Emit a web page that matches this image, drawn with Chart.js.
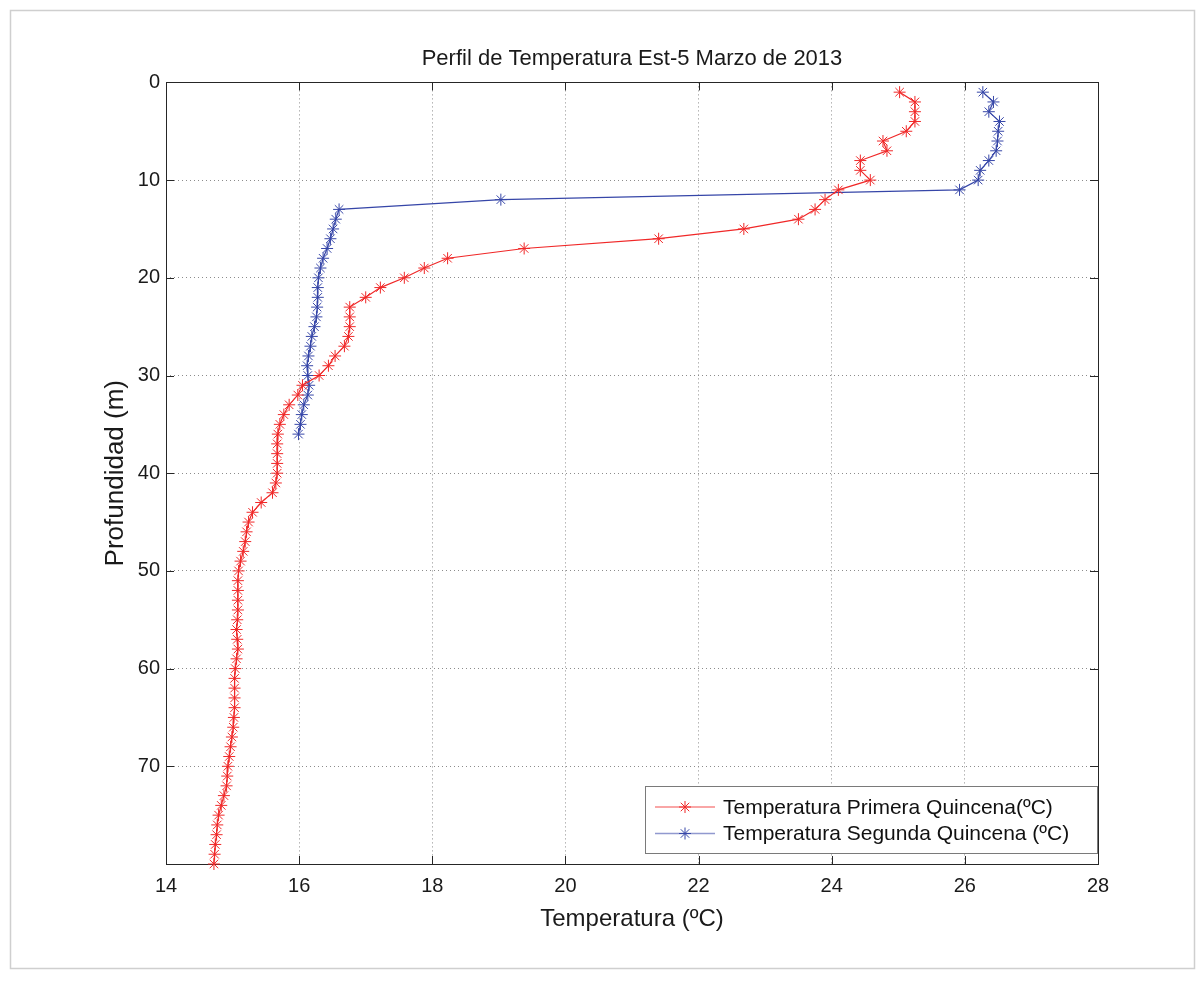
<!DOCTYPE html>
<html>
<head>
<meta charset="utf-8">
<title>Perfil de Temperatura Est-5</title>
<script src="https://cdn.jsdelivr.net/npm/chart.js@4.4.1/dist/chart.umd.min.js"></script>
<style>
  html, body { margin: 0; padding: 0; background: #fff; }
  #wrap { position: relative; width: 1204px; height: 991px; }
</style>
</head>
<body>
<div id="wrap"><canvas id="perfil-chart" width="1204" height="991"></canvas></div>
<script>
  // profundidad (m) de cada medida
  const depthPrimera = [1, 2, 3, 4, 5, 6, 7, 8, 9, 10,
    11, 12, 13, 14, 15, 16, 17, 18, 19, 20,
    21, 22, 23, 24, 25, 26, 27, 28, 29, 30,
    31, 32, 33, 34, 35, 36, 37, 38, 39, 40,
    41, 42, 43, 44, 45, 46, 47, 48, 49, 50,
    51, 52, 53, 54, 55, 56, 57, 58, 59, 60,
    61, 62, 63, 64, 65, 66, 67, 68, 69, 70,
    71, 72, 73, 74, 75, 76, 77, 78, 79, 80];
  const tempPrimera = [25.02, 25.25, 25.25, 25.25, 25.12, 24.77, 24.83, 24.43, 24.43, 24.58,
    24.10, 23.90, 23.75, 23.50, 22.68, 21.40, 19.38, 18.23, 17.88, 17.58,
    17.22, 17.00, 16.76, 16.76, 16.76, 16.74, 16.68, 16.54, 16.44, 16.30,
    16.05, 15.98, 15.85, 15.77, 15.71, 15.68, 15.67, 15.67, 15.67, 15.67,
    15.65, 15.60, 15.43, 15.30, 15.24, 15.21, 15.19, 15.16, 15.12, 15.09,
    15.08, 15.08, 15.08, 15.08, 15.07, 15.06, 15.07, 15.08, 15.06, 15.04,
    15.03, 15.03, 15.03, 15.03, 15.02, 15.01, 14.99, 14.97, 14.95, 14.93,
    14.92, 14.91, 14.87, 14.83, 14.79, 14.77, 14.76, 14.74, 14.73, 14.72];

  const depthSegunda = [1, 2, 3, 4, 5, 6, 7, 8, 9, 10,
    11, 12, 13, 14, 15, 16, 17, 18, 19, 20,
    21, 22, 23, 24, 25, 26, 27, 28, 29, 30,
    31, 32, 33, 34, 35, 36];
  const tempSegunda = [26.27, 26.43, 26.36, 26.52, 26.50, 26.49, 26.47, 26.36, 26.23, 26.20,
    25.92, 19.03, 16.60, 16.55, 16.51, 16.47, 16.42, 16.36, 16.32, 16.29,
    16.28, 16.28, 16.27, 16.26, 16.23, 16.19, 16.17, 16.14, 16.12, 16.13,
    16.15, 16.13, 16.07, 16.04, 16.02, 15.99];

  const xTicks = [14, 16, 18, 20, 22, 24, 26, 28];
  const yTicks = [0, 10, 20, 30, 40, 50, 60, 70, 80];

  const FONT = '"Liberation Sans", Arial, Helvetica, sans-serif';
  const RED = '#f02828';
  const BLUE = '#3646a8';

  function toPoints(xs, ys) {
    return xs.map((t, i) => ({ x: t, y: ys[i] }));
  }

  function drawStar(ctx, x, y, r) {
    const d = r * Math.SQRT1_2;
    ctx.beginPath();
    ctx.moveTo(x - r, y); ctx.lineTo(x + r, y);
    ctx.moveTo(x, y - r); ctx.lineTo(x, y + r);
    ctx.moveTo(x - d, y - d); ctx.lineTo(x + d, y + d);
    ctx.moveTo(x - d, y + d); ctx.lineTo(x + d, y - d);
    ctx.stroke();
  }

  // marco gris, caja de ejes y marcas hacia dentro (estilo matlab)
  const axesBox = {
    id: 'axesBox',
    afterLayout(chart) {
      // centrar el titulo sobre el area de los ejes
      const tb = chart.titleBlock;
      if (tb) {
        tb.left = chart.chartArea.left;
        tb.right = chart.chartArea.right;
        tb.width = tb.right - tb.left;
      }
    },
    beforeDraw(chart) {
      const ctx = chart.ctx;
      ctx.save();
      ctx.strokeStyle = '#cfcfcf';
      ctx.lineWidth = 1.5;
      ctx.strokeRect(10.5, 10.5, 1184, 958);
      ctx.restore();
    },
    beforeDatasetsDraw(chart) {
      const { ctx, chartArea: a, scales } = chart;
      ctx.save();
      ctx.strokeStyle = '#262626';
      ctx.lineWidth = 1;
      ctx.strokeRect(Math.round(a.left) + 0.5, Math.round(a.top) + 0.5,
        Math.round(a.right - a.left), Math.round(a.bottom - a.top));
      const len = 8;
      ctx.beginPath();
      xTicks.forEach(v => {
        const px = Math.round(scales.x.getPixelForValue(v)) + 0.5;
        ctx.moveTo(px, a.bottom); ctx.lineTo(px, a.bottom - len);
        ctx.moveTo(px, a.top); ctx.lineTo(px, a.top + len);
      });
      yTicks.forEach(v => {
        const py = Math.round(scales.y.getPixelForValue(v)) + 0.5;
        ctx.moveTo(a.left, py); ctx.lineTo(a.left + len, py);
        ctx.moveTo(a.right, py); ctx.lineTo(a.right - len, py);
      });
      ctx.stroke();
      ctx.restore();
    },
    afterDraw(chart) {
      const { ctx, chartArea: a } = chart;
      const sets = chart.data.datasets;
      ctx.save();
      ctx.font = '21px ' + FONT;
      const textW = Math.max(...sets.map(d => ctx.measureText(d.label).width));
      const w = Math.round(78 + textW + 28);
      const h = 67;
      const right = Math.round(a.right) - 1;
      const bottom = Math.round(a.bottom) - 11;
      const left = right - w, top = bottom - h;
      ctx.fillStyle = '#fff';
      ctx.fillRect(left, top, w, h);
      ctx.strokeStyle = '#7a7a7a';
      ctx.lineWidth = 1;
      ctx.strokeRect(left + 0.5, top + 0.5, w, h);
      sets.forEach((d, i) => {
        const y = top + 21 + i * 26.5;
        ctx.strokeStyle = d.borderColor;
        ctx.globalAlpha = 0.55;
        ctx.lineWidth = 1.5;
        ctx.beginPath();
        ctx.moveTo(left + 10, y); ctx.lineTo(left + 70, y);
        ctx.stroke();
        ctx.globalAlpha = 1;
        ctx.lineWidth = 1;
        drawStar(ctx, left + 40, y, 6);
        ctx.fillStyle = '#111';
        ctx.textBaseline = 'middle';
        ctx.textAlign = 'left';
        ctx.fillText(d.label, left + 78, y + 1);
      });
      ctx.restore();
    }
  };

  Chart.defaults.font.family = FONT;
  Chart.defaults.color = '#1a1a1a';

  const ctx = document.getElementById('perfil-chart').getContext('2d');
  new Chart(ctx, {
    type: 'line',
    data: {
      datasets: [
        {
          label: 'Temperatura Primera Quincena(\u00baC)',
          data: toPoints(tempPrimera, depthPrimera),
          borderColor: RED,
          backgroundColor: RED,
          borderWidth: 1.2,
          pointStyle: 'star',
          pointRadius: 6,
          pointBorderWidth: 1,
          pointHoverRadius: 6,
          tension: 0,
          fill: false,
          clip: 10,
        },
        {
          label: 'Temperatura Segunda Quincena (\u00baC)',
          data: toPoints(tempSegunda, depthSegunda),
          borderColor: BLUE,
          backgroundColor: BLUE,
          borderWidth: 1.2,
          pointStyle: 'star',
          pointRadius: 6,
          pointBorderWidth: 1,
          pointHoverRadius: 6,
          tension: 0,
          fill: false,
          clip: 10,
        },
      ],
    },
    options: {
      responsive: false,
      animation: false,
      devicePixelRatio: 1,
      layout: { padding: { top: 0, left: 10, right: 106, bottom: 0 } },
      plugins: {
        legend: { display: false },
        tooltip: { enabled: false },
        title: {
          display: true,
          text: 'Perfil de Temperatura Est-5 Marzo de 2013',
          font: { size: 22, weight: 'normal' },
          color: '#1a1a1a',
          padding: { top: 46, bottom: 10 },
        },
      },
      scales: {
        x: {
          type: 'linear',
          min: 14,
          max: 28,
          afterBuildTicks: s => { s.ticks = xTicks.map(v => ({ value: v })); },
          afterFit: s => { s.height = 127; },
          ticks: { font: { size: 20 }, padding: 10, color: '#1a1a1a' },
          grid: { color: '#8c8c8c', lineWidth: 1, drawTicks: false },
          border: { display: false, dash: [1, 3] },
          title: {
            display: true,
            text: 'Temperatura (\u00baC)',
            font: { size: 24 },
            color: '#1a1a1a',
            padding: { top: 0, bottom: 57 },
          },
        },
        y: {
          type: 'linear',
          reverse: true,
          min: 0,
          max: 80,
          afterBuildTicks: s => { s.ticks = yTicks.map(v => ({ value: v })); },
          afterFit: s => { s.width = 156; },
          ticks: {
            font: { size: 20 },
            padding: 6,
            color: '#1a1a1a',
            callback: v => (v === 80 ? '' : v),
          },
          grid: { color: '#8c8c8c', lineWidth: 1, drawTicks: false },
          border: { display: false, dash: [1, 3] },
          title: {
            display: true,
            text: 'Profundidad (m)',
            font: { size: 26 },
            color: '#1a1a1a',
            padding: { top: 90, bottom: 0 },
          },
        },
      },
    },
    plugins: [axesBox],
  });
</script>
</body>
</html>
